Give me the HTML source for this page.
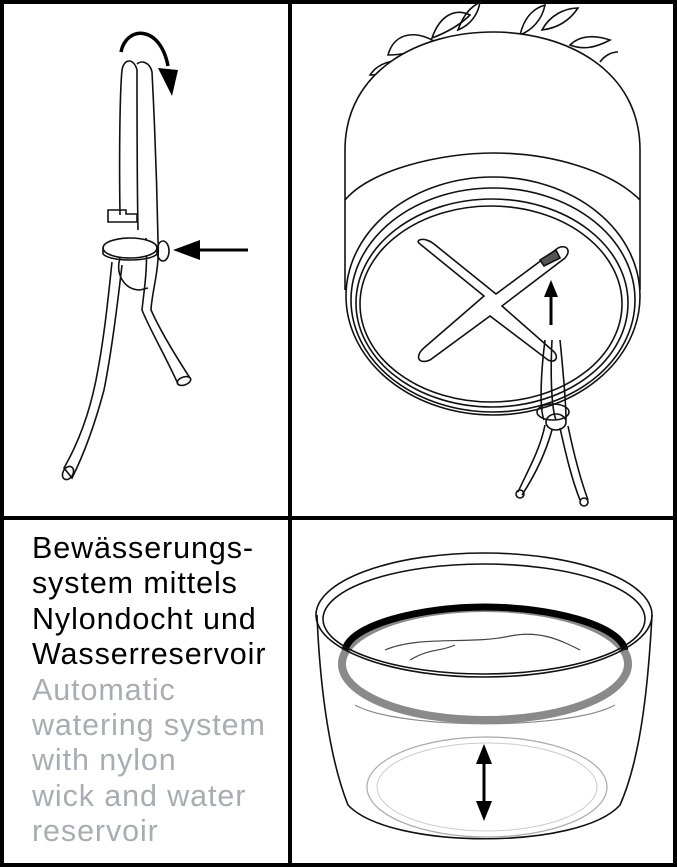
<!DOCTYPE html>
<html><head><meta charset="utf-8"><style>
html,body{margin:0;padding:0;background:#fff}
#w{position:relative;width:677px;height:867px;overflow:hidden}
svg{position:absolute;left:0;top:0}
.t{position:absolute;left:32px;top:531px;font-family:"Liberation Sans",sans-serif;font-size:30.5px;line-height:35.4px;letter-spacing:0.9px;white-space:nowrap}
.g{color:#a9adb3}
</style></head><body><div id="w">
<svg width="677" height="867" viewBox="0 0 677 867" fill="none" stroke="#111" stroke-width="1.6">
<rect x="2" y="2" width="673" height="863" stroke="#000" stroke-width="4"/>
<line x1="290" y1="0" x2="290" y2="867" stroke="#000" stroke-width="4"/>
<line x1="0" y1="518" x2="677" y2="518" stroke="#000" stroke-width="4"/>

<!-- top-left wick -->
<path d="M120 215 C119 150 120 90 122 70 C124 58 134 58 137 70 C137 120 137 180 138 230"/>
<path d="M137 64 C141 60 150 62 152 72 C155 130 157 190 158 240 C160 270 152 290 151 310 C160 330 175 355 190 378"/>
<path d="M146 238 C148 270 144 290 142 310 C150 330 165 355 178 384"/>
<ellipse cx="184" cy="381" rx="7" ry="4" transform="rotate(-20 184 381)"/>
<path d="M108 210 L126 210 L126 214 L137 214 L137 222 L108 222 Z"/>
<ellipse cx="130" cy="248" rx="27" ry="10" fill="#fff"/>
<path d="M103 248 L103 254 C110 262 150 262 157 254 L157 248"/>
<ellipse cx="163" cy="251" rx="6" ry="10"/>
<path d="M120 258 C115 275 125 290 140 290 L148 288"/>
<path d="M112 262 C108 300 104 340 96 380 C90 410 80 440 64 468 L72 478 C86 450 96 420 104 390 C112 350 118 300 122 265"/>
<ellipse cx="68" cy="473" rx="5" ry="7" transform="rotate(30 68 473)"/>
<path d="M121 52 C126 26 160 24 168 66" stroke="#000" stroke-width="3.5"/>
<polygon points="158,68 178,70 172,96" fill="#000" stroke="none"/>
<line x1="248" y1="250" x2="196" y2="250" stroke="#000" stroke-width="3"/>
<polygon points="173,250 200,240 200,260" fill="#000" stroke="none"/>

<!-- top-right pot leaves -->
<path d="M370 75 C380 60 400 58 420 62 C405 70 390 75 370 75 Z"/>
<path d="M388 55 C395 30 420 30 440 45 C420 50 405 55 388 55 Z"/>
<path d="M432 38 C440 15 455 8 470 15 C460 25 448 32 432 38 Z"/>
<path d="M458 30 C465 10 475 5 480 2 C478 15 470 25 458 30 Z"/>
<path d="M520 35 C525 15 535 8 545 5 C542 20 532 30 520 35 Z"/>
<path d="M542 30 C550 15 565 8 578 8 C570 20 558 28 542 30 Z"/>
<path d="M570 45 C580 35 595 35 610 40 C595 48 583 50 570 45 Z"/>
<path d="M600 62 C605 55 612 52 618 52"/>
<path d="M345 290 L345 150 C345 70 420 32 493 32 C566 32 640 70 640 150 L640 290" fill="#fff"/>
<path d="M345 200 C370 170 440 153 493 153 C550 153 610 170 640 200"/>
<ellipse cx="493" cy="296" rx="147" ry="119" fill="#fff"/>
<ellipse cx="493" cy="300" rx="142" ry="112"/>
<ellipse cx="492" cy="303" rx="136" ry="104"/>
<ellipse cx="491" cy="304" rx="131" ry="98"/>
<path d="M420 244 L484 296 L425 347 C414 356 418 365 430 360 L490 316 L548 360 C556 364 560 356 552 350 L502 306 L565 258 C572 250 566 244 558 248 L496 294 L434 244 C424 236 414 240 420 244 Z"/>
<path d="M540 260 L556 250 L560 258 L544 266 Z" fill="#555"/>
<line x1="551" y1="325" x2="551" y2="295" stroke="#000" stroke-width="3"/>
<polygon points="551,280 544,297 558,297" fill="#000" stroke="none"/>
<path d="M545 340 C540 380 540 410 544 420 M552 340 C550 380 552 410 556 420 M560 340 C564 380 566 410 566 420"/>
<ellipse cx="553" cy="412" rx="16" ry="8"/>
<ellipse cx="556" cy="422" rx="10" ry="8"/>
<path d="M545 425 C540 450 528 470 518 492 M552 430 C545 455 535 475 522 495 M560 428 C566 455 572 480 580 500 M568 426 C574 455 580 478 588 500"/>
<ellipse cx="520" cy="494" rx="4" ry="4"/><ellipse cx="584" cy="502" rx="4" ry="4"/>

<!-- bottom-right bowl -->
<ellipse cx="487" cy="787" rx="120" ry="50" stroke="#aaa" stroke-width="1.2"/>
<ellipse cx="487" cy="787" rx="110" ry="44" stroke="#ccc" stroke-width="1"/>
<path d="M317 615 C320 690 330 760 348 805 C390 850 580 850 620 805 C640 760 648 690 652 615"/>
<path d="M355 705 C400 730 570 730 615 705" stroke="#888" stroke-width="1.2"/>
<ellipse cx="485" cy="664" rx="143" ry="56" stroke="#8a8a8a" stroke-width="8"/>
<path d="M345 650 C350 625 420 607 485 607 C550 607 620 625 625 650" stroke="#000" stroke-width="7"/>
<path d="M385 650 C420 635 470 645 510 636 C540 630 560 640 580 650" stroke="#444" stroke-width="1.2"/>
<path d="M410 660 C430 648 440 652 455 645" stroke="#444" stroke-width="1.2"/>
<ellipse cx="484" cy="615" rx="168" ry="62"/>
<ellipse cx="484" cy="619" rx="161" ry="55"/>
<line x1="484" y1="760" x2="484" y2="805" stroke="#000" stroke-width="3"/>
<polygon points="484,744 476,764 492,764" fill="#000" stroke="none"/>
<polygon points="484,821 476,801 492,801" fill="#000" stroke="none"/>
</svg>
<div class="t">Bewässerungs-<br>system mittels<br>Nylondocht und<br>Wasserreservoir<br><span class="g">Automatic<br>watering system<br>with nylon<br>wick and water<br>reservoir</span></div>
</div></body></html>
